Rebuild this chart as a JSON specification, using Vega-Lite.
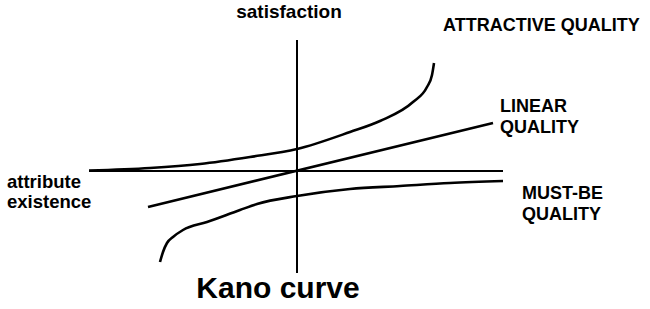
{
  "$schema": "https://vega.github.io/schema/vega-lite/v6.json",
  "width": 650,
  "height": 309,
  "autosize": {"type": "fit", "contains": "padding"},
  "padding": 0,
  "background": "white",
  "config": {"view": {"stroke": null}},
  "datasets": {
    "curves": [
      {"curve": "attractive", "x": -208, "y": 0.5},
      {"curve": "attractive", "x": -147, "y": 3},
      {"curve": "attractive", "x": -97, "y": 7},
      {"curve": "attractive", "x": -47, "y": 14},
      {"curve": "attractive", "x": 0, "y": 22},
      {"curve": "attractive", "x": 53, "y": 39},
      {"curve": "attractive", "x": 83, "y": 50},
      {"curve": "attractive", "x": 116, "y": 69},
      {"curve": "attractive", "x": 130, "y": 84},
      {"curve": "attractive", "x": 135, "y": 96},
      {"curve": "attractive", "x": 137, "y": 108},
      {"curve": "linear", "x": -149, "y": -36},
      {"curve": "linear", "x": 196, "y": 48},
      {"curve": "mustbe", "x": -137, "y": -91},
      {"curve": "mustbe", "x": -134, "y": -81},
      {"curve": "mustbe", "x": -130, "y": -72},
      {"curve": "mustbe", "x": -124, "y": -66},
      {"curve": "mustbe", "x": -114, "y": -59},
      {"curve": "mustbe", "x": -90, "y": -51},
      {"curve": "mustbe", "x": -57, "y": -39},
      {"curve": "mustbe", "x": -40, "y": -33},
      {"curve": "mustbe", "x": 0, "y": -25},
      {"curve": "mustbe", "x": 53, "y": -18},
      {"curve": "mustbe", "x": 103, "y": -15},
      {"curve": "mustbe", "x": 153, "y": -12},
      {"curve": "mustbe", "x": 206, "y": -10}
    ],
    "axes": [
      {"axis": "h", "x": -208, "y": 0},
      {"axis": "h", "x": 206, "y": 0},
      {"axis": "v", "x": 0, "y": 131},
      {"axis": "v", "x": 0, "y": -102}
    ],
    "labels": [
      {"group": "small", "label": "attribute", "x": -290, "y": -17},
      {"group": "small", "label": "existence", "x": -290, "y": -37},
      {"group": "cat", "label": "ATTRACTIVE QUALITY", "x": 146, "y": 140},
      {"group": "cat", "label": "LINEAR", "x": 203, "y": 59},
      {"group": "cat", "label": "QUALITY", "x": 203, "y": 38},
      {"group": "cat", "label": "MUST-BE", "x": 225, "y": -28},
      {"group": "cat", "label": "QUALITY", "x": 225, "y": -49}
    ],
    "center": [
      {"group": "sat", "label": "satisfaction", "x": -8, "y": 153},
      {"group": "title", "label": "Kano curve", "x": -19, "y": -127}
    ]
  },
  "layer": [
    {
      "data": {"name": "axes"},
      "mark": {"type": "line", "color": "black", "strokeWidth": 2},
      "encoding": {
        "x": {"field": "x", "type": "quantitative", "scale": {"domain": [-297, 353], "nice": false, "zero": false}, "axis": null},
        "y": {"field": "y", "type": "quantitative", "scale": {"domain": [-138, 171], "nice": false, "zero": false}, "axis": null},
        "detail": {"field": "axis"}
      }
    },
    {
      "data": {"name": "curves"},
      "mark": {"type": "line", "color": "black", "strokeWidth": 2.6, "interpolate": "monotone"},
      "encoding": {
        "x": {"field": "x", "type": "quantitative"},
        "y": {"field": "y", "type": "quantitative"},
        "detail": {"field": "curve"}
      }
    },
    {
      "data": {"name": "labels"},
      "transform": [{"filter": "datum.group === 'small'"}],
      "mark": {"type": "text", "align": "left", "baseline": "alphabetic", "font": "Liberation Sans", "fontWeight": "bold", "fontSize": 18.5, "color": "black"},
      "encoding": {
        "x": {"field": "x", "type": "quantitative"},
        "y": {"field": "y", "type": "quantitative"},
        "text": {"field": "label"}
      }
    },
    {
      "data": {"name": "labels"},
      "transform": [{"filter": "datum.group === 'cat'"}],
      "mark": {"type": "text", "align": "left", "baseline": "alphabetic", "font": "Liberation Sans", "fontWeight": "bold", "fontSize": 18, "color": "black"},
      "encoding": {
        "x": {"field": "x", "type": "quantitative"},
        "y": {"field": "y", "type": "quantitative"},
        "text": {"field": "label"}
      }
    },
    {
      "data": {"name": "center"},
      "transform": [{"filter": "datum.group === 'sat'"}],
      "mark": {"type": "text", "align": "center", "baseline": "alphabetic", "font": "Liberation Sans", "fontWeight": "bold", "fontSize": 19, "color": "black"},
      "encoding": {
        "x": {"field": "x", "type": "quantitative"},
        "y": {"field": "y", "type": "quantitative"},
        "text": {"field": "label"}
      }
    },
    {
      "data": {"name": "center"},
      "transform": [{"filter": "datum.group === 'title'"}],
      "mark": {"type": "text", "align": "center", "baseline": "alphabetic", "font": "Liberation Sans", "fontWeight": "bold", "fontSize": 30, "color": "black"},
      "encoding": {
        "x": {"field": "x", "type": "quantitative"},
        "y": {"field": "y", "type": "quantitative"},
        "text": {"field": "label"}
      }
    }
  ]
}
